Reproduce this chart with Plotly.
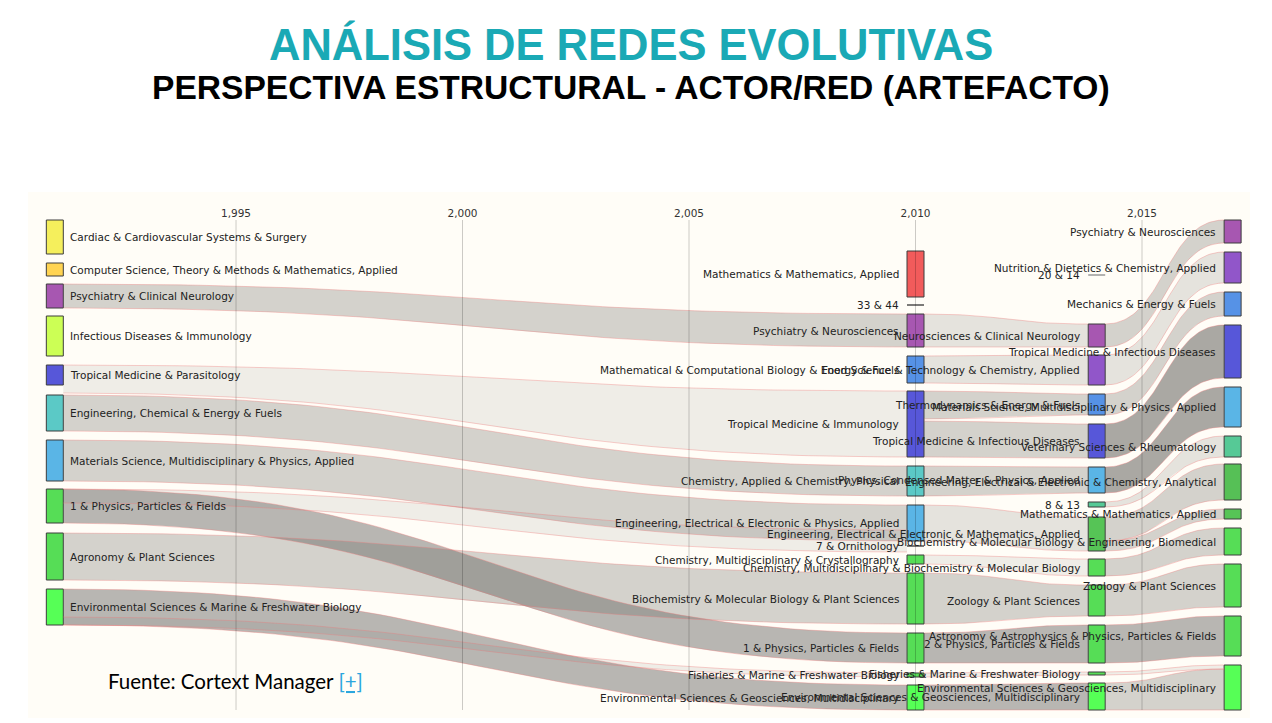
import numpy as np
import plotly.graph_objects as go

# ---------------- data ----------------
column_years = [1991, 2010, 2014, 2017]
tick_years = [1995, 2000, 2005, 2010, 2015]

labels_1991 = ["Cardiac & Cardiovascular Systems & Surgery",
               "Computer Science, Theory & Methods & Mathematics, Applied",
               "Psychiatry & Clinical Neurology",
               "Infectious Diseases & Immunology",
               "Tropical Medicine & Parasitology",
               "Engineering, Chemical & Energy & Fuels",
               "Materials Science, Multidisciplinary & Physics, Applied",
               "1 & Physics, Particles & Fields",
               "Agronomy & Plant Sciences",
               "Environmental Sciences & Marine & Freshwater Biology"]
sizes_1991 = [34, 13, 24, 40, 20, 36, 41, 34, 47, 36]
gaps_1991 = [28, 9, 8, 8, 9, 10, 9, 8, 10, 9]
colors_1991 = ["#f5ef5c", "#ffd452", "#a757b1", "#ccff55", "#5757d9",
               "#5bc9c6", "#5ab5e6", "#56dd56", "#56dd56", "#56ff56"]

labels_2010 = ["Mathematics & Mathematics, Applied", "33 & 44",
               "Psychiatry & Neurosciences",
               "Mathematical & Computational Biology & Energy & Fuels",
               "Tropical Medicine & Immunology",
               "Chemistry, Applied & Chemistry, Physical",
               "Engineering, Electrical & Electronic & Physics, Applied",
               "7 & Ornithology",
               "Chemistry, Multidisciplinary & Crystallography",
               "Biochemistry & Molecular Biology & Plant Sciences",
               "1 & Physics, Particles & Fields",
               "Fisheries & Marine & Freshwater Biology",
               "Environmental Sciences & Geosciences, Multidisciplinary"]
sizes_2010 = [46, 0, 33, 27, 66, 30, 36, 0, 9, 51, 30, 4, 25]
gaps_2010 = [59, 8, 9, 9, 8, 9, 9, 5, 9, 9, 9, 10, 8]
colors_2010 = ["#f25b5b", "#333333", "#a757b1", "#5692e6", "#5757d9", "#5bc9c6",
               "#5ab5e6", "#333333", "#56dd56", "#56dd56", "#56dd56", "#56dd56", "#56ff56"]

labels_2014 = ["20 & 14", "Neurosciences & Clinical Neurology",
               "Food Science & Technology & Chemistry, Applied",
               "Thermodynamics & Energy & Fuels",
               "Tropical Medicine & Infectious Diseases",
               "Physics, Condensed Matter & Physics, Applied",
               "8 & 13",
               "Engineering, Electrical & Electronic & Mathematics, Applied",
               "Chemistry, Multidisciplinary & Biochemistry & Molecular Biology",
               "Zoology & Plant Sciences",
               "2 & Physics, Particles & Fields",
               "Fisheries & Marine & Freshwater Biology",
               "Environmental Sciences & Geosciences, Multidisciplinary"]
sizes_2014 = [0, 23, 30, 21, 34, 26, 5, 34, 17, 31, 38, 3, 27]
gaps_2014 = [83, 49, 8, 9, 9, 9, 9, 10, 8, 9, 9, 9, 8]
colors_2014 = ["#8a8a8a", "#a757b1", "#9156c9", "#5692e6", "#5757d9", "#5ab5e6",
               "#56c996", "#56c456", "#56dd56", "#56dd56", "#56dd56", "#56dd56", "#56ff56"]

labels_2017 = ["Psychiatry & Neurosciences",
               "Nutrition & Dietetics & Chemistry, Applied",
               "Mechanics & Energy & Fuels",
               "Tropical Medicine & Infectious Diseases",
               "Materials Science, Multidisciplinary & Physics, Applied",
               "Veterinary Sciences & Rheumatology",
               "Engineering, Electrical & Electronic & Chemistry, Analytical",
               "Mathematics & Mathematics, Applied",
               "Biochemistry & Molecular Biology & Engineering, Biomedical",
               "Zoology & Plant Sciences",
               "Astronomy & Astrophysics & Physics, Particles & Fields",
               "Environmental Sciences & Geosciences, Multidisciplinary"]
sizes_2017 = [23, 31, 24, 53, 40, 21, 36, 10, 27, 43, 40, 45]
gaps_2017 = [28, 9, 9, 9, 9, 9, 7, 9, 9, 9, 9, 9]
colors_2017 = ["#a757b1", "#9156c9", "#5692e6", "#5757d9", "#5ab5e6", "#56c996",
               "#56c056", "#56c456", "#56dd56", "#56dd56", "#56dd56", "#56ff56"]

# links: (source node, target node, source offset from, to, target offset from, to, shade)
links_1991_2010 = [(2, 2, 0, 24, 0, 33, "mid"),
                   (4, 4, 0, 28, 0, 66, "light"),
                   (5, 5, 0, 36, 0, 30, "mid"),
                   (6, 6, 0, 41, 0, 36, "mid"),
                   (7, 7, 0, 14, -16, 6, "light"),
                   (7, 10, 0, 34, 0, 30, "dark"),
                   (8, 9, 0, 47, 0, 51, "mid"),
                   (9, 12, 0, 36, 0, 25, "dark"),
                   (9, 11, 28, 36, 0, 4, "light")]
links_2010_2014 = [(2, 1, 0, 33, 0, 23, "lightmid"),
                   (3, 2, 0, 27, 0, 30, "lightmid"),
                   (4, 3, 0, 28, 0, 21, "mid"),
                   (4, 4, 30, 66, 0, 34, "mid"),
                   (5, 5, 0, 30, 0, 26, "mid"),
                   (6, 7, 0, 36, 0, 34, "lightmid"),
                   (8, 8, 0, 9, 0, 17, "light"),
                   (9, 9, 0, 51, 0, 31, "mid"),
                   (10, 10, 0, 30, 0, 38, "dark"),
                   (11, 11, 0, 4, 0, 3, "light"),
                   (12, 12, 0, 25, 0, 27, "dark")]
links_2014_2017 = [(1, 0, 0, 23, 0, 23, "mid"),
                   (2, 1, 0, 30, 0, 31, "lightmid"),
                   (3, 2, 0, 21, 0, 24, "mid"),
                   (4, 3, 0, 34, 0, 53, "darker"),
                   (5, 4, 0, 26, 0, 40, "darker"),
                   (6, 5, 0, 5, 0, 21, "lightmid"),
                   (7, 6, 0, 24, 0, 36, "mid"),
                   (7, 7, 24, 34, 0, 10, "mid"),
                   (8, 8, 0, 17, 0, 27, "mid"),
                   (9, 9, 0, 31, 0, 43, "mid"),
                   (10, 10, 0, 38, 0, 40, "dark"),
                   (11, 11, 0, 3, 0, 4, "light"),
                   (12, 11, 0, 27, 4, 45, "mid")]

shade_alpha = {"light": 0.10, "lightmid": 0.17, "mid": 0.28, "dark": 0.46, "darker": 0.55}

# ---------------- layout helpers ----------------
HW = 0.1875          # half node width (years)
LABEL_GAP_LEFT = 0.11
LABEL_GAP_RIGHT = 0.13
Y_TOP, Y_BOTTOM = 0, 526

columns = [
    (labels_1991, sizes_1991, gaps_1991, colors_1991),
    (labels_2010, sizes_2010, gaps_2010, colors_2010),
    (labels_2014, sizes_2014, gaps_2014, colors_2014),
    (labels_2017, sizes_2017, gaps_2017, colors_2017),
]

tops = []
for labels, sizes, gaps, colors in columns:
    t = []
    cur = 0
    for s, g in zip(sizes, gaps):
        cur += g
        t.append(cur)
        cur += s
    tops.append(t)

fig = go.Figure()


def bezier(x0, x1, y0, y1, n=60):
    t = np.linspace(0, 1, n)
    xm = (x0 + x1) / 2
    x = (1 - t) ** 3 * x0 + 3 * (1 - t) ** 2 * t * xm + 3 * (1 - t) * t ** 2 * xm + t ** 3 * x1
    y = ((1 - t) ** 3 + 3 * (1 - t) ** 2 * t) * y0 + (3 * (1 - t) * t ** 2 + t ** 3) * y1
    return x, y


stages = [(0, 1, links_1991_2010), (1, 2, links_2010_2014), (2, 3, links_2014_2017)]
edge_x, edge_y = [], []
for ci, cj, links in stages:
    xs = column_years[ci] + HW
    xe = column_years[cj] - HW
    for (si, ti, sa, sb, ta, tb, shade) in links:
        s0 = tops[ci][si] + sa
        s1 = tops[ci][si] + sb
        t0 = tops[cj][ti] + ta
        t1 = tops[cj][ti] + tb
        xt, yt = bezier(xs, xe, s0, t0)
        xb, yb = bezier(xs, xe, s1, t1)
        px = np.concatenate([xt, xb[::-1]])
        py = np.concatenate([yt, yb[::-1]])
        fig.add_trace(go.Scatter(
            x=px, y=py, mode="lines", fill="toself",
            fillcolor=f"rgba(100,99,95,{shade_alpha[shade]})",
            line=dict(width=0), hoverinfo="skip", showlegend=False))
        edge_x += list(xt) + [None] + list(xb) + [None]
        edge_y += list(yt) + [None] + list(yb) + [None]

fig.add_trace(go.Scatter(x=edge_x, y=edge_y, mode="lines",
                         line=dict(color="rgba(238,120,120,0.45)", width=0.8),
                         hoverinfo="skip", showlegend=False))

# nodes
bx, bbase, bsize, bcol = [], [], [], []
for c, (labels, sizes, gaps, colors) in enumerate(columns):
    for k, s in enumerate(sizes):
        if s > 0:
            bx.append(column_years[c])
            bbase.append(tops[c][k])
            bsize.append(s)
            bcol.append(colors[k])
        else:
            fig.add_trace(go.Scatter(
                x=[column_years[c] - HW, column_years[c] + HW],
                y=[tops[c][k], tops[c][k]], mode="lines",
                line=dict(color=colors[k], width=1.3),
                hoverinfo="skip", showlegend=False))

fig.add_trace(go.Bar(x=bx, y=bsize, base=bbase, width=2 * HW,
                     marker=dict(color=bcol, line=dict(color="#3c3c3c", width=1)),
                     hoverinfo="skip", showlegend=False))

# grid lines (drawn over nodes) and tick labels
gx, gy = [], []
for yr in tick_years:
    gx += [yr, yr, None]
    gy += [28, 518, None]
fig.add_trace(go.Scatter(x=gx, y=gy, mode="lines",
                         line=dict(color="rgba(0,0,0,0.2)", width=1),
                         hoverinfo="skip", showlegend=False))
fig.add_trace(go.Scatter(x=tick_years, y=[22] * len(tick_years), mode="text",
                         text=[f"{yr:,}" for yr in tick_years],
                         textfont=dict(family="DejaVu Sans", size=10.5, color="#333333"),
                         hoverinfo="skip", showlegend=False))

# node labels
annotations = []
for c, (labels, sizes, gaps, colors) in enumerate(columns):
    for k, lab in enumerate(labels):
        yc = tops[c][k] + sizes[k] / 2
        if c == 0:
            x = column_years[c] + HW + LABEL_GAP_LEFT
            xa = "left"
        else:
            x = column_years[c] - HW - LABEL_GAP_RIGHT
            xa = "right"
        annotations.append(dict(x=x, y=yc, xref="x", yref="y", text=lab,
                                showarrow=False, xanchor=xa, yanchor="middle",
                                font=dict(family="DejaVu Sans", size=10.5, color="#222222")))

# titles & source
annotations.append(dict(xref="paper", yref="paper", x=0.4935, y=1.2795,
                        text="<b>ANÁLISIS DE REDES EVOLUTIVAS</b>", showarrow=False,
                        xanchor="center", yanchor="middle",
                        font=dict(family="Liberation Sans, Arial", size=43.5, color="#1aa9b5")))
annotations.append(dict(xref="paper", yref="paper", x=0.4935, y=1.1996,
                        text="<b>PERSPECTIVA ESTRUCTURAL - ACTOR/RED (ARTEFACTO)</b>",
                        showarrow=False, xanchor="center", yanchor="middle",
                        font=dict(family="Liberation Sans, Arial", size=33.6, color="#000000")))
annotations.append(dict(xref="paper", yref="paper", x=0.0640, y=0.0694,
                        text="Fuente: Cortext Manager <span style='color:#2ba6de;text-decoration:underline'>[+]</span>",
                        showarrow=False, xanchor="left", yanchor="middle",
                        font=dict(family="Lato, Open Sans", size=20.5, color="#000000")))

fig.update_layout(
    width=1272, height=723,
    margin=dict(l=28, r=22, t=192, b=5),
    paper_bgcolor="#ffffff", plot_bgcolor="#fffdf7",
    barmode="overlay",
    xaxis=dict(range=[1990.408, 2017.384], visible=False, fixedrange=True),
    yaxis=dict(range=[Y_BOTTOM, Y_TOP], visible=False, fixedrange=True),
    annotations=annotations,
    showlegend=False,
)

fig.write_html("out.html")
